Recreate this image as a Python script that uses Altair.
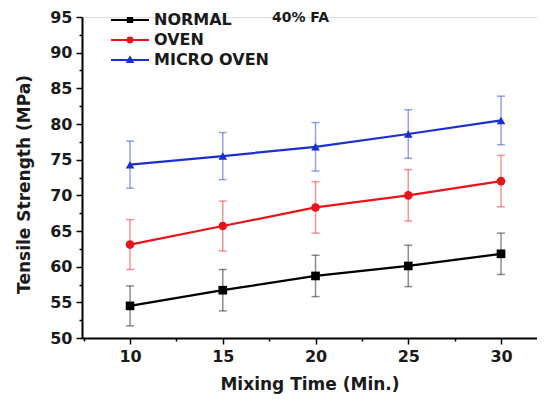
import altair as alt
import pandas as pd

# ---- data ----
mixing_time = [10, 15, 20, 25, 30]
series_names = ["NORMAL", "OVEN", "MICRO OVEN"]
normal_mean = [54.5, 56.7, 58.7, 60.1, 61.8]
normal_err = [2.8, 2.9, 2.9, 2.9, 2.9]
oven_mean = [63.1, 65.7, 68.3, 70.0, 72.0]
oven_err = [3.5, 3.5, 3.6, 3.6, 3.6]
micro_mean = [74.3, 75.5, 76.8, 78.6, 80.5]
micro_err = [3.3, 3.3, 3.4, 3.4, 3.4]
series_colors = ["#000000", "#e8141b", "#1a2fd0"]
series_shapes = ["square", "circle", "triangle-up"]
# legend glyphs: a line segment with a small marker in the middle
legend_glyphs = [
    "M-1,0H3.75M1.1,-0.25H1.65V0.25H1.1Z",
    "M-1,0H3.75M1.68,0A0.3,0.3 0 1,1 1.07,0A0.3,0.3 0 1,1 1.68,0Z",
    "M-1,0H3.75M1.375,-0.33L1.7,0.24H1.05Z",
]
annotation_text = ["40% FA"]
annotation_x = [17.65]
annotation_y = [94.85]

rows = []
for name, means, errs in [("NORMAL", normal_mean, normal_err),
                          ("OVEN", oven_mean, oven_err),
                          ("MICRO OVEN", micro_mean, micro_err)]:
    for t, m, e in zip(mixing_time, means, errs):
        rows.append({"time": t, "series": name, "mean": m,
                     "lo": m - e, "hi": m + e})
df = pd.DataFrame(rows)
ann = pd.DataFrame({"text": annotation_text, "x": annotation_x, "y": annotation_y})

FONT = "DejaVu Sans"
TXT = "#1a1a1a"

xscale = alt.Scale(domain=[7.41, 31.94], nice=False, zero=False)
yscale = alt.Scale(domain=[50, 95], nice=False, zero=False)

x_vals = [7.5, 10, 12.5, 15, 17.5, 20, 22.5, 25, 27.5, 30]
y_vals = [50, 52.5, 55, 57.5, 60, 62.5, 65, 67.5, 70, 72.5, 75, 77.5,
          80, 82.5, 85, 87.5, 90, 92.5, 95]

style_axis = dict(
    labelExpr="(round(datum.value * 2) % 10 == 0) ? format(datum.value, 'd') : ''",
    tickSize={"condition": {"test": "round(datum.value * 2) % 10 != 0", "value": 3},
              "value": 6},
    grid=False, domainColor="black", domainWidth=2, tickColor="black", tickWidth=1.5,
    labelFont=FONT, labelFontSize=16, labelFontWeight="bold", labelColor=TXT,
    titleFont=FONT, titleFontSize=17, titleFontWeight="bold", titleColor=TXT,
    labelOverlap=False, labelFlush=False, labelBound=False,
)
xaxis = alt.Axis(title="Mixing Time (Min.)", values=x_vals,
                 labelPadding=4, titlePadding=12, **style_axis)
yaxis = alt.Axis(title="Tensile Strength (MPa)", values=y_vals,
                 labelPadding=4, titlePadding=16, titleY=167, **style_axis)


def X(field):
    return alt.X(field, scale=xscale, axis=xaxis)


def Y(field):
    return alt.Y(field, scale=yscale, axis=yaxis)


color = alt.Color("series:N", scale=alt.Scale(domain=series_names, range=series_colors),
                  legend=alt.Legend(title=None, orient="none", legendX=28, legendY=-6,
                                    symbolSize=256, symbolStrokeWidth=2,
                                    symbolOpacity=1,
                                    labelFont=FONT, labelFontSize=16,
                                    labelFontWeight="bold", labelColor=TXT,
                                    rowPadding=3, labelOffset=26))

base = alt.Chart(df)

err = base.mark_rule(strokeWidth=1.5, opacity=0.45).encode(
    x=X("time:Q"), y=Y("lo:Q"), y2="hi:Q", color=color)
cap_lo = base.mark_tick(orient="horizontal", size=8, thickness=1.5, opacity=0.45).encode(
    x=X("time:Q"), y=Y("lo:Q"), color=color)
cap_hi = base.mark_tick(orient="horizontal", size=8, thickness=1.5, opacity=0.45).encode(
    x=X("time:Q"), y=Y("hi:Q"), color=color)

lines = base.mark_line(strokeWidth=2.2).encode(
    x=X("time:Q"), y=Y("mean:Q"), color=color, detail="series:N")

point_layers = [
    base.transform_filter(alt.datum.series == name).mark_point(
        filled=True, size=75, opacity=1, shape=shp).encode(
        x=X("time:Q"), y=Y("mean:Q"), color=color)
    for name, shp in zip(series_names, series_shapes)
]

# invisible layer that only supplies the legend glyphs
legend_layer = base.mark_point(filled=False, opacity=0).encode(
    x=X("time:Q"), y=Y("mean:Q"), color=color,
    shape=alt.Shape("series:N", scale=alt.Scale(domain=series_names, range=legend_glyphs)))

text = alt.Chart(ann).mark_text(font=FONT, fontSize=14, fontWeight="bold",
                                color=TXT, align="left", baseline="middle").encode(
    x=X("x:Q"), y=Y("y:Q"), text="text:N")

chart = alt.layer(err, cap_lo, cap_hi, lines, *point_layers, legend_layer, text).properties(
    width=455, height=321,
    padding={"left": 74, "top": 9, "right": 0, "bottom": 56},
    autosize="none",
).configure_view(stroke=None).configure(background="white").configure_axis(
    labelOverlap=False)

chart.save("out.html", embed_options={"renderer": "svg", "actions": False})
